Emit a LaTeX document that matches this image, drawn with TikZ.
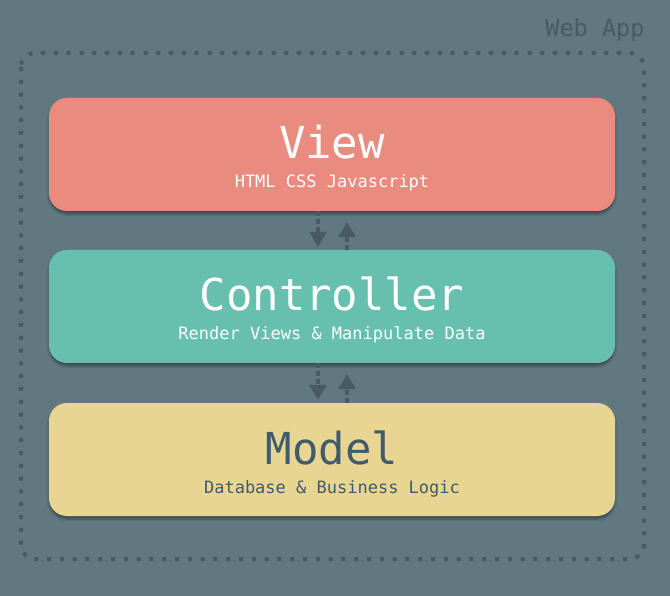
\documentclass[tikz,border=0pt]{standalone}
\usepackage{fontspec}
\setmonofont{DejaVu Sans Mono}
\usetikzlibrary{arrows.meta,shadows.blur}

\begin{document}
\begin{tikzpicture}[x=1pt,y=-1pt,
	layerbox/.style={rounded corners=18pt,minimum width=566pt,minimum height=113pt,blur shadow={shadow xshift=0pt,shadow yshift=-3pt,shadow blur steps=6,shadow opacity=35}},
	layertitle/.style={anchor=base,font=\ttfamily\fontsize{44}{50}\selectfont},
	layersub/.style={anchor=base,font=\ttfamily\fontsize{17}{20}\selectfont},
	flow/.style={line width=3.5pt,arrowgrey,dash pattern=on 5pt off 3pt,-{Triangle[length=15pt,width=17pt]}}]
					\definecolor{slate}{HTML}{627881}
					\definecolor{dotgrey}{HTML}{485A64}
					\definecolor{arrowgrey}{HTML}{4A5A63}
					\definecolor{viewred}{HTML}{E98B7E}
					\definecolor{ctrlgreen}{HTML}{67BFAD}
					\definecolor{modelyellow}{HTML}{E8D592}
					\definecolor{modeltext}{HTML}{3E5C6B}
					\fill[slate] (0,0) rectangle (670,596);
					\draw[dotgrey,line width=4pt,dash pattern=on 4pt off 8.8pt,rounded corners=14pt] (21,53) rectangle (644,559);
					\node[anchor=east,dotgrey,font=\ttfamily\fontsize{23.5}{28}\selectfont] (webapp) at (648,30) {Web App};

					\node[layerbox,fill=viewred] (view) at (332,154.5) {};
					\node[layerbox,fill=ctrlgreen] (ctrl) at (332,306.5) {};
					\node[layerbox,fill=modelyellow] (model) at (332,459.5) {};

					\node[layertitle,white] (viewtitle) at (332,159) {View};
					\node[layersub,white] (viewsub) at (332,188) {HTML CSS Javascript};
					\node[layertitle,white] (ctrltitle) at (332,311) {Controller};
					\node[layersub,white] (ctrlsub) at (332,340) {Render Views \& Manipulate Data};
					\node[layertitle,modeltext] (modeltitle) at (332,464) {Model};
					\node[layersub,modeltext] (modelsub) at (332,493) {Database \& Business Logic};

					\draw[flow,shorten >=3pt] ([xshift=-14pt]view.south) -- ([xshift=-14pt]ctrl.north);
					\draw[flow,shorten >=11pt] ([xshift=15pt]ctrl.north) -- ([xshift=15pt]view.south);
					\draw[flow,shorten >=3pt] ([xshift=-14pt]ctrl.south) -- ([xshift=-14pt]model.north);
					\draw[flow,shorten >=11pt] ([xshift=15pt]model.north) -- ([xshift=15pt]ctrl.south);
				\end{tikzpicture}
\end{document}
